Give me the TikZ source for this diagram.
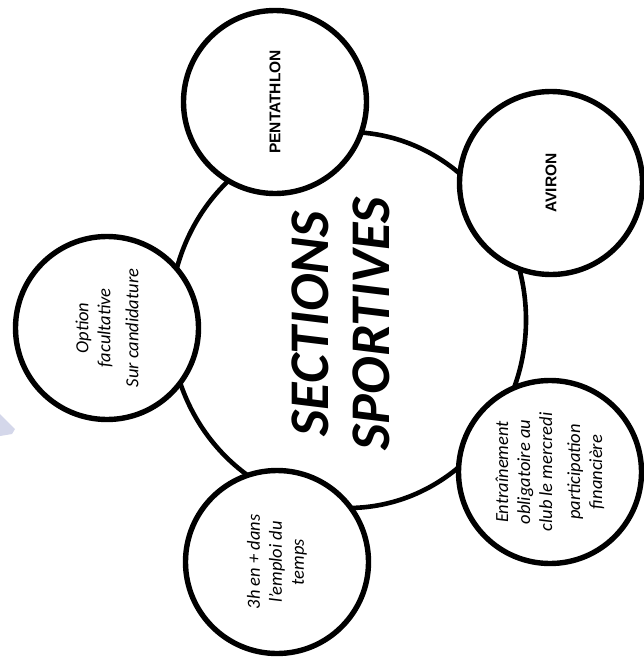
\documentclass[tikz,border=0pt]{standalone}
\usepackage{fontspec}
\setmainfont{Carlito}
\newfontfamily\arialfont{Liberation Sans}
\usepackage{tikz}
\usetikzlibrary{shapes.geometric}
\definecolor{grisbleu}{RGB}{212,215,234}

\begin{document}
\begin{tikzpicture}[line cap=round,line join=round, x=1pt,y=-1pt,
    bulle/.style={circle,draw=black,fill=white,line width=5.4pt,minimum size=183pt,inner sep=0pt,rotate=90,align=center},
    texte/.style={font=\fontsize{18.5}{22}\selectfont\itshape},
    sigle/.style={font=\arialfont\bfseries\fontsize{15.5}{18}\selectfont}]
\useasboundingbox (0,0) rectangle (643,661);
\fill[grisbleu] (0,414) -- (15,429) -- (12,434) -- (0,436) -- cycle;
\node[ellipse,draw=black,line width=4.6pt,minimum width=356pt,minimum height=376pt,inner sep=0pt] (centre) at (348,320) {};
\node[rotate=90,align=center,font=\fontsize{56}{61}\selectfont\bfseries\itshape] (titre) at (341,324) {SECTIONS\\SPORTIVES};
\node[bulle,sigle] (pentathlon) at (275,102) {PENTATHLON};
\node[bulle,sigle] (aviron) at (551,183) {AVIRON};
\node[bulle,texte] (entrainement) at (550,472) {Entraînement\\obligatoire au\\club le mercredi\\[6pt]participation\\financière};
\node[bulle,texte] (horaire) at (277,562) {3h en + dans\\l'emploi du\\temps};
\node[bulle,texte] (option) at (107,328) {Option\\facultative\\[6pt]Sur candidature};
\end{tikzpicture}
\end{document}
